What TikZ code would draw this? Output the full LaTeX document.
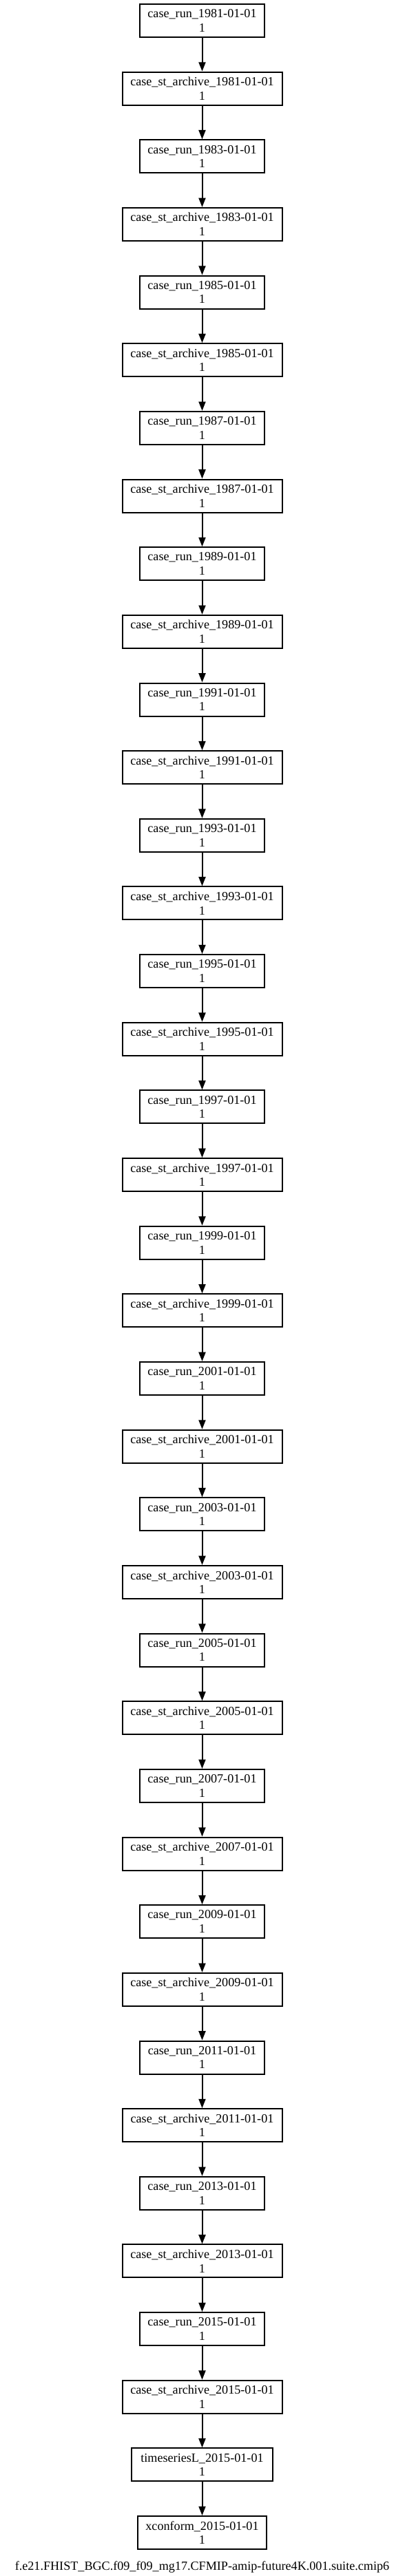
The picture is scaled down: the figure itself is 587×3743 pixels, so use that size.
\documentclass[tikz,border=0pt]{standalone}
\usepackage{fontspec}
\setmainfont{Liberation Serif}
\usetikzlibrary{arrows.meta}
\begin{document}
\begin{tikzpicture}[x=0.75pt,y=-0.75pt,
  box/.style={draw,line width=1.5pt,minimum height=36pt,inner sep=0pt,align=center,
    font=\fontsize{13.6}{15.4}\selectfont},
  runbox/.style={box,minimum width=135.75pt},
  archbox/.style={box,minimum width=174pt},
  tsbox/.style={box,minimum width=153.75pt},
  xcbox/.style={box,minimum width=140.25pt},
  edge/.style={line width=1.5pt,-{Triangle[length=10pt,width=7.5pt]}}]
\useasboundingbox (0,0) rectangle (587,3743);
\foreach \y [count=\k from 0] in {1981,1983,...,2015}{
  \node[runbox] (r\y) at (293.5,{30+2*\k*98.65}) {case\_run\_\y-01-01\\1};
  \node[archbox] (a\y) at (293.5,{30+(2*\k+1)*98.65}) {case\_st\_archive\_\y-01-01\\1};
  \draw[edge] (r\y) -- (a\y);
}
\foreach \y in {1981,1983,...,2013}{
  \pgfmathtruncatemacro\nx{\y+2}
  \draw[edge] (a\y) -- (r\nx);
}
\node[tsbox] (ts) at (293.5,{30+36*98.65}) {timeseriesL\_2015-01-01\\1};
\node[xcbox] (xc) at (293.5,{30+37*98.65}) {xconform\_2015-01-01\\1};
\draw[edge] (a2015) -- (ts);
\draw[edge] (ts) -- (xc);
\node[anchor=base,inner sep=0pt,font=\fontsize{13.6}{15.4}\selectfont] (title) at (293.5,3734)
  {f.e21.FHIST\_BGC.f09\_f09\_mg17.CFMIP-amip-future4K.001.suite.cmip6};
\end{tikzpicture}
\end{document}
